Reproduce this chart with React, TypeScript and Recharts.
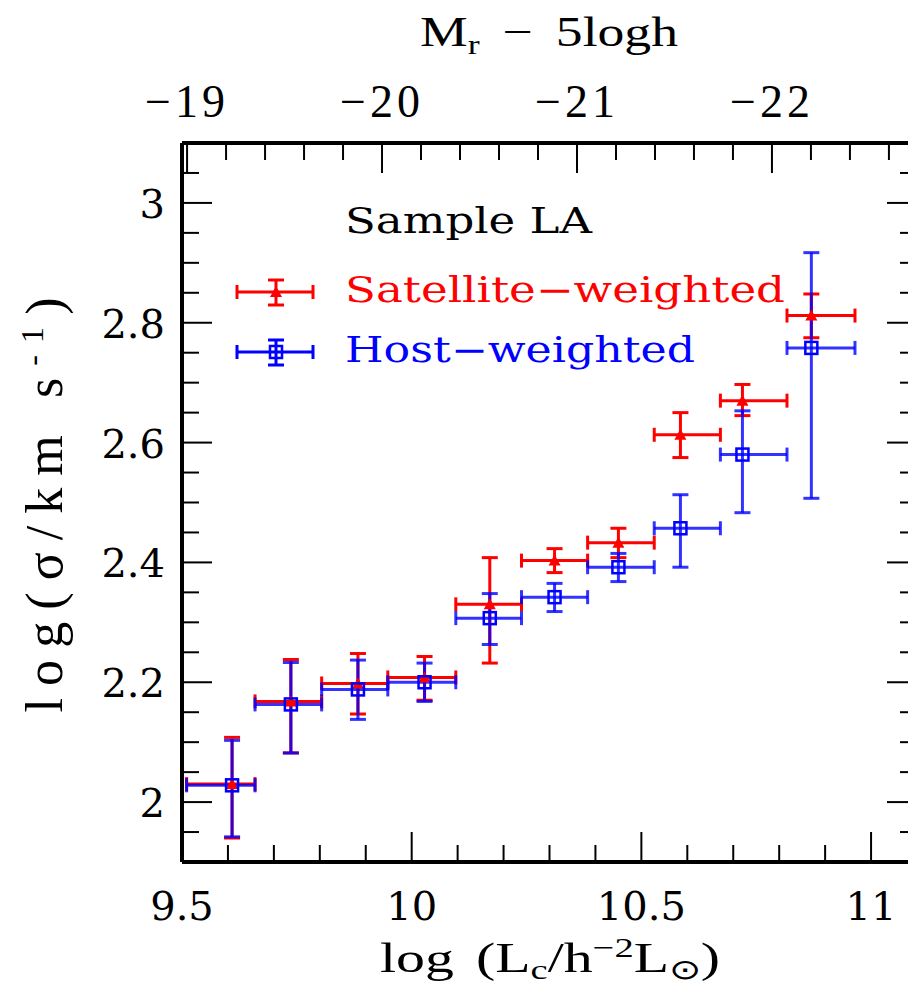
import React from 'react'
import { ScatterChart, Scatter, XAxis, YAxis, ErrorBar } from 'recharts'

// bin centres and bin edges in log(Lc)
const xMid = [9.609, 9.737, 9.883, 10.028, 10.17, 10.311, 10.45, 10.585, 10.72, 10.87]
const binEdges = [9.51, 9.659, 9.804, 9.948, 10.096, 10.239, 10.383, 10.528, 10.672, 10.817, 10.965]

// satellite-weighted
const satY = [2.03, 2.168, 2.198, 2.208, 2.33, 2.403, 2.433, 2.613, 2.67, 2.812]
const satHi = [2.108, 2.238, 2.248, 2.243, 2.408, 2.423, 2.457, 2.65, 2.697, 2.848]
const satLo = [1.94, 2.082, 2.147, 2.17, 2.232, 2.383, 2.408, 2.575, 2.645, 2.775]

// host-weighted
const hostY = [2.028, 2.163, 2.188, 2.2, 2.307, 2.342, 2.392, 2.457, 2.58, 2.758]
const hostHi = [2.103, 2.233, 2.237, 2.232, 2.348, 2.365, 2.415, 2.513, 2.653, 2.917]
const hostLo = [1.942, 2.082, 2.138, 2.168, 2.263, 2.318, 2.368, 2.392, 2.483, 2.507]

// axis ticks
const xMajor = [9.5, 10, 10.5, 11]
const xTicks = [9.5, 9.6, 9.7, 9.8, 9.9, 10, 10.1, 10.2, 10.3, 10.4, 10.5, 10.6, 10.7, 10.8, 10.9, 11]
const magMajor = [19, 20, 21, 22]
const magTicks = [19, 19.2, 19.4, 19.6, 19.8, 20, 20.2, 20.4, 20.6, 20.8, 21, 21.2, 21.4, 21.6, 21.8, 22, 22.2, 22.4, 22.6]
const yMajor = [2, 2.2, 2.4, 2.6, 2.8, 3]
const yTicks = [1.95, 2, 2.05, 2.1, 2.15, 2.2, 2.25, 2.3, 2.35, 2.4, 2.45, 2.5, 2.55, 2.6, 2.65, 2.7, 2.75, 2.8, 2.85, 2.9, 2.95, 3, 3.05]

const RED = '#ff0000'
const BLUE = '#0000ff'
const SERIF = 'DejaVu Serif'
const TIMES = 'Liberation Serif'

const isMajor = (v: number, list: number[]) => list.some((m) => Math.abs(m - v) < 1e-6)

const build = (y: number[], hi: number[], lo: number[]) =>
  xMid.map((x, i) => ({
    x,
    y: y[i],
    ex: [x - binEdges[i], binEdges[i + 1] - x],
    ey: [y[i] - lo[i], hi[i] - y[i]],
  }))

const satData = build(satY, satHi, satLo)
const hostData = build(hostY, hostHi, hostLo)

const BottomTick = ({ x, y, payload }: any) => {
  const major = isMajor(payload.value, xMajor)
  return (
    <g>
      <line x1={x} y1={y} x2={x} y2={y - (major ? 30 : 17)} stroke="#000" strokeWidth={2} />
      {major && (
        <text x={x} y={y + 58} textAnchor="middle" fontFamily={SERIF} fontSize={40} fill="#000">
          {payload.value}
        </text>
      )}
    </g>
  )
}

const TopTick = ({ x, y, payload }: any) => {
  const major = isMajor(payload.value, magMajor)
  return (
    <g>
      <line x1={x} y1={y} x2={x} y2={y + (major ? 30 : 17)} stroke="#000" strokeWidth={2} />
      {major && (
        <text
          x={x - 2}
          y={y - 26}
          textAnchor="middle"
          fontFamily={TIMES}
          fontSize={46}
          fill="#000"
          textLength={80}
          lengthAdjust="spacing"
        >
          {'\u2212' + payload.value}
        </text>
      )}
    </g>
  )
}

const LeftTick = ({ x, y, payload }: any) => {
  const major = isMajor(payload.value, yMajor)
  return (
    <g>
      <line x1={x} y1={y} x2={x + (major ? 30 : 17)} y2={y} stroke="#000" strokeWidth={2} />
      {major && (
        <text x={x - 17} y={y + 15} textAnchor="end" fontFamily={SERIF} fontSize={40} fill="#000">
          {payload.value}
        </text>
      )}
    </g>
  )
}

const RightTick = ({ x, y, payload }: any) => {
  const major = isMajor(payload.value, yMajor)
  return <line x1={x} y1={y} x2={x - (major ? 30 : 17)} y2={y} stroke="#000" strokeWidth={2} />
}

const Triangle = ({ cx, cy }: any) => (
  <polygon points={`${cx - 6},${cy + 5} ${cx + 6},${cy + 5} ${cx},${cy - 6}`} fill={RED} />
)

const Square = ({ cx, cy }: any) => (
  <rect x={cx - 6} y={cy - 6} width={12} height={12} fill="none" stroke={BLUE} strokeWidth={2.5} />
)

const axisLine = { stroke: '#000', strokeWidth: 4 }

const LegendEntry = ({ y, color, square }: { y: number; color: string; square?: boolean }) => (
  <g stroke={color} strokeWidth={3}>
    <line x1={237} y1={y} x2={313} y2={y} />
    <line x1={237} y1={y - 7} x2={237} y2={y + 7} />
    <line x1={313} y1={y - 7} x2={313} y2={y + 7} />
    <line x1={276} y1={y - 12} x2={276} y2={y + 13} />
    <line x1={268} y1={y - 12} x2={284} y2={y - 12} />
    <line x1={268} y1={y + 13} x2={284} y2={y + 13} />
    {square ? (
      <rect x={270} y={y - 6} width={12} height={12} fill="none" strokeWidth={2.5} />
    ) : (
      <polygon points={`270,${y + 5} 282,${y + 5} 276,${y - 6}`} fill={color} stroke="none" />
    )}
  </g>
)

const App = () => {
  return (
    <div style={{ position: 'absolute', left: 0, top: 0, width: 908, height: 986, overflow: 'hidden', background: '#fff' }}>
      <ScatterChart width={930} height={986} margin={{ top: 0, right: 0, bottom: 0, left: 0 }}>
        <XAxis
          xAxisId="b"
          orientation="bottom"
          type="number"
          dataKey="x"
          domain={[9.5, 11.1]}
          allowDataOverflow
          ticks={xTicks}
          interval={0}
          tickSize={0}
          tickMargin={0}
          tickLine={false}
          tick={<BottomTick />}
          axisLine={axisLine}
          height={124}
        />
        <XAxis
          xAxisId="t"
          orientation="top"
          type="number"
          dataKey="x"
          domain={[18.974, 22.744]}
          allowDataOverflow
          ticks={magTicks}
          interval={0}
          tickSize={0}
          tickMargin={0}
          tickLine={false}
          tick={<TopTick />}
          axisLine={axisLine}
          height={143}
        />
        <YAxis
          yAxisId="l"
          orientation="left"
          type="number"
          dataKey="y"
          domain={[1.9, 3.1]}
          allowDataOverflow
          ticks={yTicks}
          interval={0}
          tickSize={0}
          tickMargin={0}
          tickLine={false}
          tick={<LeftTick />}
          axisLine={axisLine}
          width={182}
        />
        <YAxis
          yAxisId="r"
          orientation="right"
          type="number"
          dataKey="y"
          domain={[1.9, 3.1]}
          allowDataOverflow
          ticks={yTicks}
          interval={0}
          tickSize={0}
          tickMargin={0}
          tickLine={false}
          tick={<RightTick />}
          axisLine={axisLine}
          width={13}
        />
        <Scatter xAxisId="t" yAxisId="r" data={[]} isAnimationActive={false} />
        <Scatter xAxisId="b" yAxisId="l" data={satData} shape={<Triangle />} isAnimationActive={false}>
          <ErrorBar dataKey="ex" direction="x" width={7} stroke={RED} strokeWidth={3} isAnimationActive={false} />
          <ErrorBar dataKey="ey" direction="y" width={8} stroke={RED} strokeWidth={3} isAnimationActive={false} />
        </Scatter>
        <Scatter xAxisId="b" yAxisId="l" data={hostData} shape={<Square />} isAnimationActive={false}>
          <ErrorBar dataKey="ex" direction="x" width={7} stroke={BLUE} strokeOpacity={0.8} strokeWidth={3} isAnimationActive={false} />
          <ErrorBar dataKey="ey" direction="y" width={8} stroke={BLUE} strokeOpacity={0.8} strokeWidth={3} isAnimationActive={false} />
        </Scatter>
      </ScatterChart>

      <svg width={908} height={986} style={{ position: 'absolute', left: 0, top: 0, pointerEvents: 'none' }}>
        <text
          x={549}
          y={46}
          textAnchor="middle"
          fontFamily={TIMES}
          fontSize={42}
          fill="#000"
          textLength={258}
          lengthAdjust="spacingAndGlyphs"
        >
          M<tspan dy={8} fontSize={28}>r</tspan>
          <tspan dy={-8} dx={18}>{'\u2212'}</tspan>
          <tspan dx={18}>5logh</tspan>
        </text>
        <text
          x={550}
          y={972}
          textAnchor="middle"
          fontFamily={TIMES}
          fontSize={42}
          fill="#000"
          textLength={340}
          lengthAdjust="spacingAndGlyphs"
        >
          log
          <tspan dx={16}>(L</tspan>
          <tspan dy={7} fontSize={28}>c</tspan>
          <tspan dy={-7}>/h</tspan>
          <tspan dy={-15} fontSize={28}>{'\u22122'}</tspan>
          <tspan dy={15}>L</tspan>
          <tspan dy={7} fontSize={28}>{'\u2299'}</tspan>
          <tspan dy={-7}>)</tspan>
        </text>
        <text
          x={62}
          y={505}
          transform="rotate(-90 62 505)"
          textAnchor="middle"
          fontFamily={TIMES}
          fontSize={52}
          fill="#000"
          textLength={415}
          lengthAdjust="spacing"
        >
          {'log(\u03c3/km s'}
          <tspan dy={-19} fontSize={32}>{'-1'}</tspan>
          <tspan dy={19}>)</tspan>
        </text>

        <text x={345} y={233} fontFamily={SERIF} fontSize={35} fill="#000" textLength={247} lengthAdjust="spacingAndGlyphs">
          Sample LA
        </text>
        <LegendEntry y={292} color={RED} />
        <text x={345} y={302} fontFamily={SERIF} fontSize={35} fill={RED} textLength={440} lengthAdjust="spacingAndGlyphs">
          {'Satellite\u2212weighted'}
        </text>
        <LegendEntry y={352} color={BLUE} square />
        <text x={345} y={362} fontFamily={SERIF} fontSize={35} fill={BLUE} textLength={350} lengthAdjust="spacingAndGlyphs">
          {'Host\u2212weighted'}
        </text>
      </svg>
    </div>
  )
}

export default App
